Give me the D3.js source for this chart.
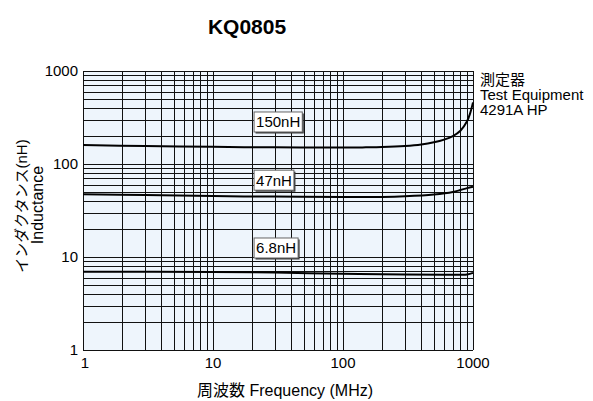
<!DOCTYPE html>
<html>
<head>
<meta charset="utf-8">
<script src="https://cdn.jsdelivr.net/npm/d3@7/dist/d3.min.js"></script>
<style>
  body { margin: 0; background: #fff; }
  svg { display: block; font-family: "Liberation Sans", Arial, Helvetica, "Noto Sans CJK JP", sans-serif; }
</style>
</head>
<body>
<svg width="593" height="401"></svg>
<script>
// frequency points (MHz) and inductance readings (nH) per part
var freq150 = [1, 3, 10, 30, 100, 150, 200, 300, 400, 500, 600, 700, 800, 900, 950, 1000];
var ind150  = [160, 156, 153, 151, 150.5, 151, 152, 156, 162, 171, 183, 200, 228, 288, 350, 460];
var freq47  = [1, 3, 10, 30, 100, 200, 300, 500, 700, 800, 900, 1000];
var ind47   = [47.2, 46.3, 45.2, 44.6, 44.2, 44.3, 45, 47, 50, 52.5, 55, 57];
var freq68  = [1, 10, 30, 100, 300, 600, 900, 1000];
var ind68   = [6.95, 6.9, 6.8, 6.6, 6.5, 6.45, 6.5, 6.75];

var seriesNames = ['150nH', '47nH', '6.8nH'];
var labelFreq = 20.7;               // left edge of the label boxes
var labelValues = [283, 67, 12.5];  // vertical centre of each label box
var xTicks = [1, 10, 100, 1000];
var yTicks = [1, 10, 100, 1000];
var noteLines = ['測定器', 'Test Equipment', '4291A HP'];

var svg = d3.select('svg');
var plotLeft = 83, plotRight = 473, plotTop = 71, plotBottom = 350;

var x = d3.scaleLog().domain([1, 1000]).range([plotLeft, plotRight]);
var y = d3.scaleLog().domain([1, 1000]).range([plotBottom, plotTop]);

// background
svg.append('rect')
  .attr('x', plotLeft).attr('y', plotTop)
  .attr('width', plotRight - plotLeft).attr('height', plotBottom - plotTop)
  .style('fill', '#eef5fc');

// grid values 1..9 per decade
var gridVals = [];
[1, 10, 100].forEach(function(d){
  for (var k = 1; k <= 9; k++) gridVals.push(k * d);
});
gridVals.push(1000);

var grid = svg.append('g')
  .attr('shape-rendering', 'crispEdges')
  .style('stroke', '#111')
  .style('stroke-width', 1);

grid.selectAll('line.v').data(gridVals).enter().append('line')
  .attr('class', 'v')
  .attr('x1', function(d){ return Math.round(x(d)) + 0.5; })
  .attr('x2', function(d){ return Math.round(x(d)) + 0.5; })
  .attr('y1', plotTop).attr('y2', plotBottom);

grid.selectAll('line.h').data(gridVals).enter().append('line')
  .attr('class', 'h')
  .attr('y1', function(d){ return Math.round(y(d)) + 0.5; })
  .attr('y2', function(d){ return Math.round(y(d)) + 0.5; })
  .attr('x1', plotLeft).attr('x2', plotRight);

// curves
var line = d3.line()
  .x(function(d){ return x(d[0]); })
  .y(function(d){ return y(d[1]); })
  .curve(d3.curveCatmullRom.alpha(0.5));

var series = [
  d3.zip(freq150, ind150),
  d3.zip(freq47, ind47),
  d3.zip(freq68, ind68)
];

svg.selectAll('path.curve').data(series).enter().append('path')
  .attr('class', 'curve')
  .attr('d', line)
  .style('fill', 'none')
  .style('stroke', '#000')
  .style('stroke-width', 2);

// label boxes
var labels = svg.selectAll('g.lbl').data(seriesNames).enter().append('g')
  .attr('class', 'lbl')
  .attr('transform', function(d, i){
    return 'translate(' + x(labelFreq) + ',' + (y(labelValues[i]) - 10) + ')';
  });

labels.each(function(d){
  var g = d3.select(this);
  var t = g.append('text')
    .attr('x', 2).attr('y', 15.5)
    .style('font-size', '15px')
    .text(d);
  var w = t.node().getComputedTextLength() + 4;
  g.insert('rect', 'text')
    .attr('x', 1.5).attr('y', 1.5)
    .attr('width', w).attr('height', 20)
    .style('fill', '#333');
  g.insert('rect', 'text')
    .attr('x', 0).attr('y', 0)
    .attr('width', w).attr('height', 20)
    .style('fill', '#fff')
    .style('stroke', '#666')
    .style('stroke-width', 1);
});

// tick labels
svg.selectAll('text.xt').data(xTicks).enter().append('text')
  .attr('class', 'xt')
  .attr('x', function(d){ return x(d) + (d === 1 ? 2 : 0); })
  .attr('y', 368)
  .attr('text-anchor', 'middle')
  .style('font-size', '15px')
  .text(function(d){ return d; });

svg.selectAll('text.yt').data(yTicks).enter().append('text')
  .attr('class', 'yt')
  .attr('x', 78)
  .attr('y', function(d){ return y(d) + 5; })
  .attr('text-anchor', 'end')
  .style('font-size', '15px')
  .text(function(d){ return d; });

// title
svg.append('text')
  .attr('x', 247).attr('y', 34)
  .attr('text-anchor', 'middle')
  .style('font-size', '21px')
  .style('font-weight', 'bold')
  .text('KQ0805');

// axis titles
svg.append('text')
  .attr('x', 285).attr('y', 396)
  .attr('text-anchor', 'middle')
  .style('font-size', '16px')
  .text('周波数 Frequency (MHz)');

svg.append('text')
  .attr('transform', 'translate(27,206) rotate(-90)')
  .attr('text-anchor', 'middle')
  .style('font-size', '15px')
  .text('インダクタンス(nH)');

svg.append('text')
  .attr('transform', 'translate(43,205) rotate(-90)')
  .attr('text-anchor', 'middle')
  .style('font-size', '16px')
  .text('Inductance');

// test equipment note
svg.selectAll('text.note').data(noteLines).enter().append('text')
  .attr('class', 'note')
  .attr('x', 480)
  .attr('y', function(d, i){ return 85 + i * 15; })
  .style('font-size', '15px')
  .text(function(d){ return d; });
</script>
</body>
</html>
